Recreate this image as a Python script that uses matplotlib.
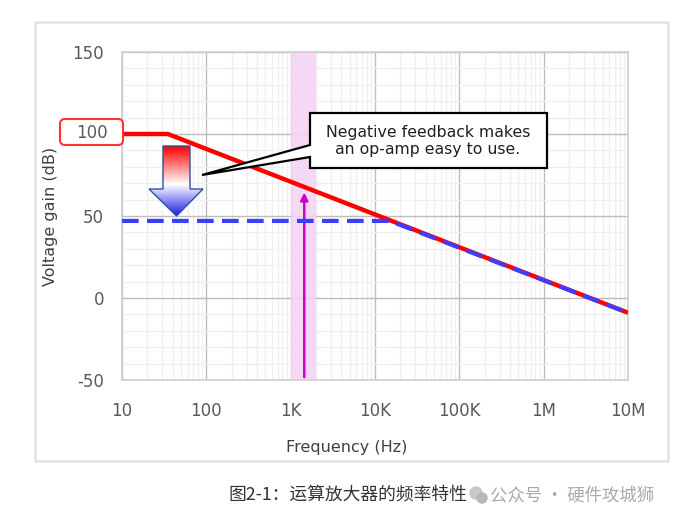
import matplotlib
matplotlib.use("Agg")
import matplotlib.pyplot as plt
import numpy as np
from matplotlib.patches import Polygon, FancyBboxPatch, Rectangle
from matplotlib.colors import LinearSegmentedColormap
from matplotlib.ticker import FixedLocator, NullFormatter

plt.rcParams['font.family'] = ['DejaVu Sans', 'Noto Sans CJK SC']

# ---- data ----
open_freq = [10, 35, 1e7]
open_gain = [100, 100, -9]
closed_freq = [10, 15000, 1e7]
closed_gain = [47, 47, -9]
band_freq = [1000, 2000]
marker_freq = 1450
marker_gain = [-50, 66]
x_ticks = [10, 100, 1e3, 1e4, 1e5, 1e6, 1e7]
x_labels = ["10", "100", "1K", "10K", "100K", "1M", "10M"]
y_ticks = [-50, 0, 50, 100, 150]
y_labels = ["-50", "0", "50", "", "150"]
callout_text = "Negative feedback makes\nan op-amp easy to use."
caption = "图2-1：运算放大器的频率特性"
watermark = "公众号 · 硬件攻城狮"

W, H = 678, 522
fig = plt.figure(figsize=(W/100, H/100), dpi=100)
fig.patch.set_facecolor("white")

ax = fig.add_axes([122/W, 1-380/H, (628-122)/W, (380-52)/H])
ax.set_xscale("log")
ax.set_xlim(10, 1e7)
ax.set_ylim(-50, 150)

ax.xaxis.set_major_locator(FixedLocator(x_ticks))
ax.set_xticklabels(x_labels)
minor_x = [m*10**e for e in range(1, 7) for m in range(2, 10)]
ax.xaxis.set_minor_locator(FixedLocator(minor_x))
ax.xaxis.set_minor_formatter(NullFormatter())
ax.set_yticks(y_ticks)
ax.set_yticklabels(y_labels)
ax.yaxis.set_minor_locator(FixedLocator(list(range(-50, 151, 10))))

ax.grid(which="minor", color="#efefef", lw=0.9)
ax.grid(which="major", color="#bdbdbd", lw=1.0)
ax.set_axisbelow(True)
for s in ax.spines.values():
    s.set_color("#d0d0d0")
    s.set_linewidth(1.2)
ax.tick_params(which="both", length=0)
ax.tick_params(axis="x", pad=16, labelsize=12, labelcolor="#595959")
ax.tick_params(axis="y", pad=13, labelsize=12, labelcolor="#595959")

ax.set_xlabel("Frequency (Hz)", fontsize=11.5, color="#404040")
ax.set_ylabel("Voltage gain (dB)", fontsize=11.5, color="#404040")
ax.xaxis.set_label_coords((347-122)/506, -(440-380)/328)
ax.yaxis.set_label_coords(-(122-58)/506, 0.5)

# band and marker arrow
ax.axvspan(band_freq[0], band_freq[1], color="#f3d2f3", alpha=0.85, lw=0, zorder=1)
ax.annotate("", xy=(marker_freq, marker_gain[1]), xytext=(marker_freq, marker_gain[0]),
            arrowprops=dict(arrowstyle="-|>", color="#cc00cc", lw=1.8, mutation_scale=11),
            zorder=3)

ax.plot(open_freq, open_gain, color="#ff0000", lw=3.2, solid_capstyle="butt", zorder=4)
ax.plot(closed_freq, closed_gain, color="#3d3dff", lw=3.0, ls=(0, (4, 2)),
        dash_capstyle="butt", zorder=5)

# ---- overlay in pixel coordinates (origin top-left) ----
ov = fig.add_axes([0, 0, 1, 1])
ov.set_xlim(0, W)
ov.set_ylim(H, 0)
ov.axis("off")
ov.patch.set_alpha(0)

# outer frame
ov.add_patch(Rectangle((35, 22), 633, 439, fill=False, ec="#e3e3e3", lw=1.8))

# "100" label with red rounded box
ov.add_patch(FancyBboxPatch((60, 119), 63, 26, boxstyle="round,pad=0,rounding_size=5",
                            fc="white", ec="#ff3333", lw=1.5, zorder=6))
ov.text(92, 133, "100", ha="center", va="center", fontsize=12, color="#595959", zorder=7)

# gradient down arrow
arrow_pts = [(163, 146), (190, 146), (190, 189), (203, 189), (176.5, 216),
             (149, 189), (163, 189)]
cmap = LinearSegmentedColormap.from_list("rwb", [(0, "#ff0000"), (0.55, "#ffffff"),
                                                 (1.0, "#1a1ae6")])
grad = np.linspace(0, 1, 200).reshape(-1, 1)
img = ov.imshow(grad, cmap=cmap, extent=(149, 203, 216, 146), aspect="auto", zorder=6,
                interpolation="bilinear")
poly = Polygon(arrow_pts, closed=True, fc="none", ec="#3050a0", lw=1.0, zorder=7)
ov.add_patch(poly)
img.set_clip_path(poly)

# callout box
callout_pts = [(310, 113), (547, 113), (547, 168), (310, 168), (310, 157),
               (202, 175), (310, 145)]
ov.add_patch(Polygon(callout_pts, closed=True, fc="white", ec="black", lw=1.6, zorder=6))
ov.text(428, 141, callout_text, ha="center", va="center", fontsize=11.3,
        color="#202020", linespacing=1.2, zorder=7)

# caption
ov.text(228, 495, caption, ha="left", va="center", fontsize=12.8, color="#333333",
        family=["Noto Sans CJK SC", "DejaVu Sans"])
ov.text(490, 495, watermark, ha="left", va="center", fontsize=12.5, color="#aaaaaa",
        family=["Noto Sans CJK SC", "DejaVu Sans"])
ov.add_patch(plt.Circle((476, 493), 6, color="#c8c8c8"))
ov.add_patch(plt.Circle((482, 498), 5, color="#b8b8b8"))

fig.savefig("out.png", dpi=100)
